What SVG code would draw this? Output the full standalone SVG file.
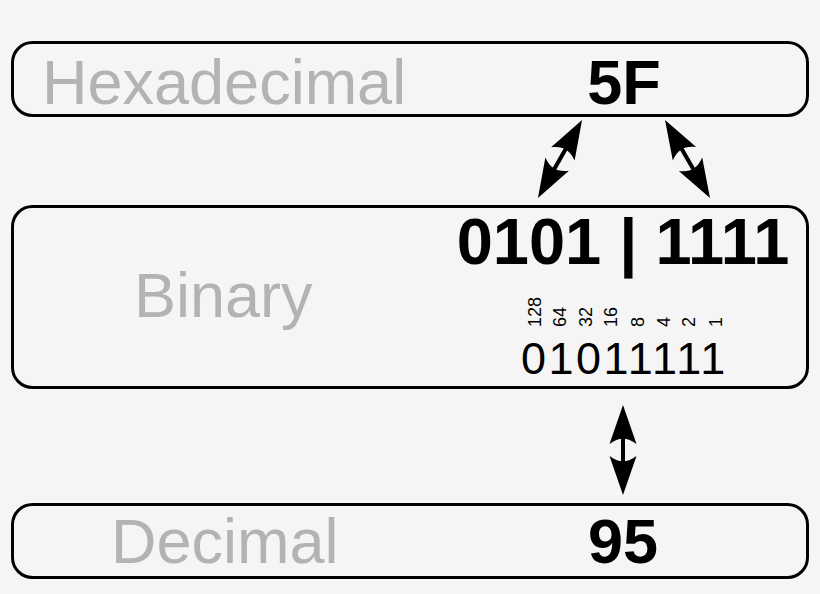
<svg xmlns="http://www.w3.org/2000/svg" width="820" height="594" viewBox="0 0 820 594">
<style>
.box{fill:#f5f5f5;stroke:#000;stroke-width:3}
.lbl{font-family:"Liberation Sans",Arial,sans-serif;font-size:63px;fill:#b3b3b3}
.val{font-family:"Liberation Sans",Arial,sans-serif;font-size:63px;font-weight:bold;fill:#000}
.big{font-size:65px}
.bits{font-family:"Liberation Sans",Arial,sans-serif;font-size:45px;letter-spacing:2.5px;fill:#000}
.w{font-family:"Liberation Sans",Arial,sans-serif;font-size:18px;fill:#000}
.ln{stroke:#000;stroke-width:4;fill:none;marker-start:url(#ah);marker-end:url(#ah)}
</style>
<defs>
<marker id="ah" markerUnits="userSpaceOnUse" markerWidth="50" markerHeight="40" viewBox="-25 -20 50 40" refX="0" refY="0" orient="auto-start-reverse" overflow="visible">
<path d="M20,0 L-19,-13.5 C-12,-4 -12,4 -19,13.5 Z" fill="#000"/>
</marker>
</defs>
<rect width="820" height="594" fill="#f5f5f5"/>
<g id="hex">
<rect class="box" x="12.5" y="42.5" width="795" height="73" rx="20"/>
<text class="lbl" x="42" y="104">Hexadecimal</text>
<text class="val" x="624" y="104" text-anchor="middle">5F</text>
</g>
<g id="binary">
<rect class="box" x="12.5" y="206.5" width="795" height="181" rx="20"/>
<text class="lbl" x="134" y="317">Binary</text>
<text class="val big" x="623" y="264" text-anchor="middle">0101 | 1111</text>
<g class="w">
<text transform="translate(541,327) rotate(-90)">128</text>
<text transform="translate(566,327) rotate(-90)">64</text>
<text transform="translate(591.5,327) rotate(-90)">32</text>
<text transform="translate(617,327) rotate(-90)">16</text>
<text transform="translate(644,327) rotate(-90)">8</text>
<text transform="translate(670,327) rotate(-90)">4</text>
<text transform="translate(695,327) rotate(-90)">2</text>
<text transform="translate(722,327) rotate(-90)">1</text>
</g>
<text class="bits" x="521" y="374">01011111</text>
</g>
<g id="decimal">
<rect class="box" x="12.5" y="504.5" width="795" height="73" rx="20"/>
<text class="lbl" x="111" y="563">Decimal</text>
<text class="val" x="623" y="563" text-anchor="middle">95</text>
</g>
<g id="connectors">
<path class="ln" d="M572.2,137.4 L547.8,180.6"/>
<path class="ln" d="M675,137.3 L700,180.7"/>
<path class="ln" d="M623,425 L623,475"/>
</g>
</svg>
